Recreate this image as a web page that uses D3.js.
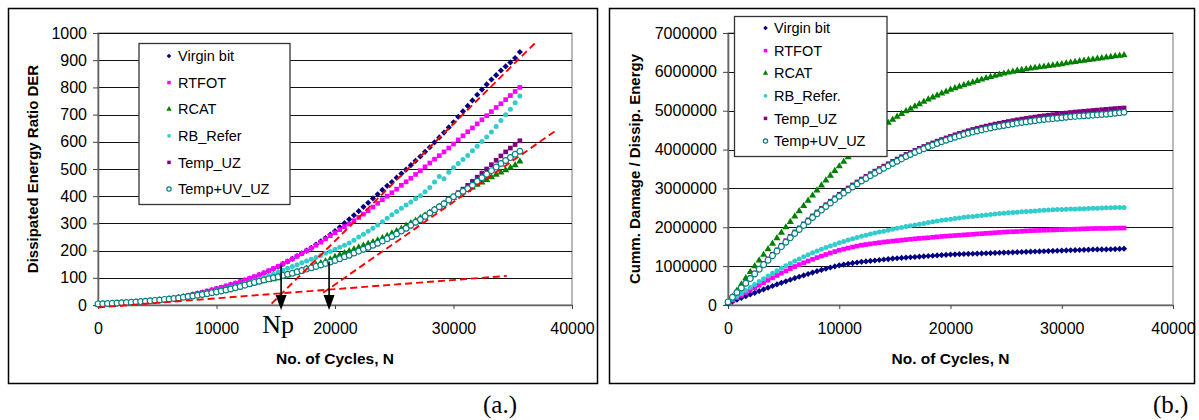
<!DOCTYPE html>
<html>
<head>
<meta charset="utf-8">
<script src="https://cdn.jsdelivr.net/npm/d3@7"></script>
<style>
  body { margin: 0; background: #fff; }
  svg { display: block; }
  text { font-family: "Liberation Sans", Arial, sans-serif; fill: #000; }
</style>
</head>
<body>
<svg id="chart" width="1199" height="420"></svg>
<script>
// ---- sampled load cycles (shared by every series) ----
const cycles = [
  0, 400, 800, 1200, 1600, 2000, 2400, 2800, 3200, 3600,
  4000, 4400, 4800, 5200, 5600, 6000, 6400, 6800, 7200, 7600,
  8000, 8400, 8800, 9200, 9600, 10000, 10400, 10800, 11200, 11600,
  12000, 12400, 12800, 13200, 13600, 14000, 14400, 14800, 15200, 15600,
  16000, 16400, 16800, 17200, 17600, 18000, 18400, 18800, 19200, 19600,
  20000, 20400, 20800, 21200, 21600, 22000, 22400, 22800, 23200, 23600,
  24000, 24400, 24800, 25200, 25600, 26000, 26400, 26800, 27200, 27600,
  28000, 28400, 28800, 29200, 29600, 30000, 30400, 30800, 31200, 31600,
  32000, 32400, 32800, 33200, 33600, 34000, 34400, 34800, 35200, 35600
];

// ---- (a) Dissipated Energy Ratio DER ----
const derVirgin = [
  2, 3, 3.5, 4.5, 5, 6, 7, 8.5, 9.5, 11,
  12, 13.5, 15, 17, 19.5, 22, 24.5, 27.5, 30.5, 34,
  38, 42, 46, 50, 54.5, 59, 64, 69, 74, 79,
  85, 91, 97, 103, 110, 117, 125, 133, 141, 151,
  160, 170, 180, 190, 200, 210, 222, 234, 246, 259,
  272, 286, 301, 315, 330, 345, 361, 376, 392, 407,
  423, 438, 452, 468, 483, 498, 514, 530, 546, 563,
  580, 598, 616, 634, 653, 672, 692, 712, 732, 752,
  773, 792, 811, 829, 845, 862, 877, 892, 908, 930
];
const derRTFOT = [
  2, 3, 4, 4.5, 5.5, 6.5, 7.5, 8.5, 10, 11,
  12.5, 14, 15.5, 17.5, 20, 22.5, 25, 28, 31, 35,
  39, 43, 47, 51, 55.5, 60, 65, 70, 75, 80.5,
  86, 92, 98, 104, 111, 118, 126, 134, 142, 151,
  160, 169, 179, 189, 199, 209, 220, 231, 243, 255,
  266, 277, 288, 298, 310, 322, 334, 347, 360, 374,
  387, 400, 413, 426, 440, 453, 466, 480, 494, 508,
  522, 536, 549, 563, 577, 592, 607, 622, 637, 651,
  666, 681, 696, 711, 726, 740, 755, 770, 785, 800
];
const derRCAT = [
  2, 3, 3.5, 4.5, 5.5, 6.5, 7.5, 8.5, 9.5, 11,
  12, 13.5, 15, 17, 19, 21, 23.5, 26, 29, 32,
  35, 38, 41, 44, 47, 50, 54, 58, 62, 66,
  70, 74, 78, 82, 85, 88, 92, 95, 99, 103,
  110, 115, 121, 127, 134, 142, 148, 154, 160, 168,
  177, 184, 191, 198, 205, 212, 218, 225, 231, 238,
  246, 254, 263, 272, 281, 292, 301, 310, 320, 330,
  340, 351, 362, 373, 384, 394, 404, 414, 423, 432,
  442, 451, 460, 470, 479, 487, 496, 505, 514, 528
];
const derRBRefer = [
  3, 3.5, 4, 5, 5.5, 6.5, 7.5, 8.5, 9.5, 11,
  12, 13.5, 15, 16.5, 18.5, 20.5, 23, 25.5, 28, 31,
  34, 37, 40, 43.5, 47.5, 52, 56, 60, 64, 68,
  73, 78, 83, 89, 95, 101, 107, 113, 120, 128,
  135, 142, 148, 155, 162, 168, 175, 182, 190, 197,
  205, 212, 220, 228, 238, 250, 260, 271, 282, 294,
  306, 319, 332, 344, 356, 368, 379, 391, 402, 416,
  432, 452, 472, 464, 488, 505, 520, 535, 550, 567,
  584, 601, 618, 636, 656, 678, 699, 720, 744, 768
];
const derTempUZ = [
  3, 4, 5, 5.5, 6.5, 7.5, 8.5, 9.5, 10.5, 12,
  13.5, 15, 16.5, 18, 20, 21.5, 23.5, 25.5, 28, 30,
  32, 35, 37.5, 40.5, 44, 47, 50.5, 54, 58, 62,
  66, 71, 76, 81, 85.5, 90, 94, 98, 102, 107,
  111, 115, 120, 124.5, 130, 135, 140, 145, 151, 156,
  162, 168, 175, 181, 189, 196, 203, 210, 218, 225,
  233, 242, 250, 259, 270, 280, 291, 302, 312, 324,
  336, 348, 360, 372, 387, 400, 413, 426, 440, 455,
  470, 485, 500, 516, 532, 548, 563, 577, 590, 604
];
const derTempUV = [
  4, 4.5, 5.5, 6, 7, 8, 9, 10, 11, 12.5,
  14, 15.5, 17, 18.5, 20.5, 22, 24, 26, 28.5, 31,
  33, 36, 38.5, 41.5, 45, 48, 51.5, 55, 59, 63.5,
  68, 73, 78, 83, 87.5, 92, 96, 100, 104, 109,
  113, 117, 122, 126.5, 132, 137, 142, 147, 153, 158,
  164, 170, 177, 183, 191, 198, 205, 212, 220, 227,
  235, 244, 252, 261, 272, 282, 293, 304, 314, 326,
  338, 350, 361, 372, 386, 398, 408, 418, 428, 440,
  455, 468, 481, 494, 507, 520, 531, 542, 554, 565
];

// ---- (b) Cumulative damage / dissipated energy, in millions ----
const dmgVirgin = [
  0.04, 0.088, 0.136, 0.182, 0.226, 0.27, 0.314, 0.358, 0.402, 0.446,
  0.49, 0.53, 0.57, 0.61, 0.65, 0.69, 0.726, 0.762, 0.798, 0.834,
  0.87, 0.902, 0.934, 0.964, 0.992, 1.02, 1.04, 1.06, 1.078, 1.094,
  1.11, 1.122, 1.134, 1.146, 1.158, 1.17, 1.182, 1.194, 1.204, 1.212,
  1.22, 1.228, 1.236, 1.244, 1.252, 1.26, 1.268, 1.276, 1.284, 1.292,
  1.30, 1.304, 1.308, 1.312, 1.316, 1.32, 1.324, 1.328, 1.332, 1.336,
  1.34, 1.344, 1.348, 1.352, 1.356, 1.36, 1.364, 1.368, 1.372, 1.376,
  1.38, 1.384, 1.388, 1.392, 1.396, 1.40, 1.404, 1.408, 1.412, 1.416,
  1.42, 1.424, 1.428, 1.43, 1.43, 1.43, 1.434, 1.438, 1.443, 1.45
];
const dmgRTFOT = [
  0.06, 0.124, 0.188, 0.252, 0.316, 0.38, 0.444, 0.508, 0.572, 0.636,
  0.70, 0.76, 0.82, 0.878, 0.934, 0.99, 1.038, 1.086, 1.132, 1.176,
  1.22, 1.26, 1.30, 1.338, 1.374, 1.41, 1.438, 1.466, 1.492, 1.516,
  1.54, 1.556, 1.572, 1.588, 1.604, 1.62, 1.632, 1.644, 1.656, 1.668,
  1.68, 1.692, 1.704, 1.714, 1.722, 1.73, 1.742, 1.754, 1.764, 1.772,
  1.78, 1.788, 1.796, 1.804, 1.812, 1.82, 1.828, 1.836, 1.844, 1.852,
  1.86, 1.868, 1.876, 1.882, 1.886, 1.89, 1.898, 1.906, 1.912, 1.916,
  1.92, 1.924, 1.928, 1.932, 1.936, 1.94, 1.944, 1.948, 1.952, 1.956,
  1.96, 1.964, 1.968, 1.97, 1.97, 1.97, 1.974, 1.978, 1.98, 1.98
];
const dmgRCAT = [
  0.05, 0.21, 0.37, 0.53, 0.69, 0.85, 0.998, 1.146, 1.292, 1.436,
  1.58, 1.72, 1.86, 2.0, 2.14, 2.28, 2.416, 2.552, 2.686, 2.818,
  2.95, 3.078, 3.206, 3.33, 3.45, 3.57, 3.686, 3.802, 3.914, 4.022,
  4.13, 4.23, 4.33, 4.426, 4.518, 4.61, 4.69, 4.77, 4.846, 4.918,
  4.99, 5.05, 5.11, 5.17, 5.23, 5.29, 5.342, 5.394, 5.444, 5.492,
  5.54, 5.58, 5.62, 5.658, 5.694, 5.73, 5.766, 5.802, 5.836, 5.868,
  5.90, 5.928, 5.956, 5.982, 6.006, 6.03, 6.05, 6.07, 6.088, 6.104,
  6.12, 6.136, 6.152, 6.168, 6.184, 6.20, 6.22, 6.24, 6.258, 6.274,
  6.29, 6.306, 6.322, 6.338, 6.354, 6.37, 6.386, 6.402, 6.418, 6.43
];
const dmgRBRefer = [
  0.08, 0.152, 0.224, 0.298, 0.374, 0.45, 0.526, 0.602, 0.676, 0.748,
  0.82, 0.884, 0.948, 1.01, 1.07, 1.13, 1.186, 1.242, 1.294, 1.342,
  1.39, 1.434, 1.478, 1.52, 1.56, 1.60, 1.636, 1.672, 1.706, 1.738,
  1.77, 1.798, 1.826, 1.852, 1.876, 1.90, 1.924, 1.948, 1.972, 1.996,
  2.02, 2.04, 2.06, 2.08, 2.10, 2.12, 2.14, 2.16, 2.178, 2.194,
  2.21, 2.226, 2.242, 2.256, 2.268, 2.28, 2.292, 2.304, 2.316, 2.328,
  2.34, 2.352, 2.364, 2.374, 2.382, 2.39, 2.398, 2.406, 2.414, 2.422,
  2.43, 2.438, 2.446, 2.452, 2.456, 2.46, 2.464, 2.468, 2.472, 2.476,
  2.48, 2.484, 2.488, 2.492, 2.496, 2.50, 2.504, 2.508, 2.51, 2.51
];
const dmgTempUZ = [
  0.08, 0.204, 0.328, 0.452, 0.576, 0.70, 0.824, 0.948, 1.068, 1.186,
  1.303, 1.42, 1.538, 1.653, 1.766, 1.879, 1.984, 2.089, 2.192, 2.293,
  2.394, 2.487, 2.58, 2.671, 2.76, 2.85, 2.93, 3.011, 3.09, 3.166,
  3.242, 3.31, 3.379, 3.446, 3.51, 3.575, 3.635, 3.696, 3.756, 3.816,
  3.876, 3.928, 3.981, 4.031, 4.08, 4.128, 4.172, 4.217, 4.259, 4.30,
  4.34, 4.38, 4.416, 4.452, 4.486, 4.518, 4.548, 4.578, 4.605, 4.631,
  4.656, 4.678, 4.70, 4.722, 4.744, 4.766, 4.784, 4.802, 4.82, 4.838,
  4.856, 4.87, 4.884, 4.898, 4.912, 4.926, 4.94, 4.954, 4.966, 4.976,
  4.986, 4.996, 5.006, 5.016, 5.026, 5.036, 5.045, 5.055, 5.062, 5.07
];
const dmgTempUV = [
  0.08, 0.20, 0.32, 0.44, 0.56, 0.68, 0.80, 0.92, 1.038, 1.154,
  1.27, 1.386, 1.502, 1.616, 1.728, 1.84, 1.944, 2.048, 2.15, 2.25,
  2.35, 2.442, 2.534, 2.624, 2.712, 2.80, 2.88, 2.96, 3.038, 3.114,
  3.19, 3.258, 3.326, 3.392, 3.456, 3.52, 3.58, 3.64, 3.70, 3.76,
  3.82, 3.872, 3.924, 3.974, 4.022, 4.07, 4.114, 4.158, 4.20, 4.24,
  4.28, 4.316, 4.352, 4.386, 4.418, 4.45, 4.478, 4.506, 4.532, 4.556,
  4.58, 4.60, 4.62, 4.64, 4.66, 4.68, 4.696, 4.712, 4.728, 4.744,
  4.76, 4.772, 4.784, 4.796, 4.808, 4.82, 4.832, 4.844, 4.854, 4.862,
  4.87, 4.878, 4.886, 4.894, 4.902, 4.91, 4.922, 4.934, 4.946, 4.96
];

// ---- axes ----
const cycleTicks = [0, 10000, 20000, 30000, 40000];
const derTicks = [0, 100, 200, 300, 400, 500, 600, 700, 800, 900, 1000];
const dmgTicks = [0, 1000000, 2000000, 3000000, 4000000, 5000000, 6000000, 7000000];

// ---- series names ----
const namesA = ["Virgin bit", "RTFOT", "RCAT", "RB_Refer", "Temp_UZ", "Temp+UV_UZ"];
const namesB = ["Virgin bit", "RTFOT", "RCAT", "RB_Refer.", "Temp_UZ", "Temp+UV_UZ"];

// ---- tangent construction on panel (a): [cycles, DER] end points ----
const tangentSteep = [[14650, 5], [37000, 968]];
const tangentFlat = [[0, -9], [34500, 107]];
const tangentLate = [[19000, 45], [38600, 640]];
// arrows marking the intersections (Np)
const arrowCycles = [15450, 19500];
const arrowTopDER = [148, 160];
const arrowTipDER = -18;

// marker look per series, in drawing order
const seriesStyle = [
  { color: "#000080", shape: "diamond" },
  { color: "#ff00ff", shape: "square" },
  { color: "#008000", shape: "triangle" },
  { color: "#33cccc", shape: "dot" },
  { color: "#800080", shape: "square" },
  { color: "#008080", shape: "ring" }
];

const svg = d3.select("#chart");
svg.append("rect").attr("width", 1199).attr("height", 420).attr("fill", "#fff");

function drawMarker(sel, shape, color, scale) {
  const k = scale || 1;
  if (shape === "ring") {
    sel.append("circle").attr("r", 2.9 * k).attr("fill", "#fff")
      .attr("stroke", color).attr("stroke-width", 1.2);
  } else if (shape === "dot") {
    sel.append("circle").attr("r", 2.5 * k).attr("fill", color);
  } else if (shape === "diamond") {
    sel.append("path").attr("d", d3.symbol(d3.symbolSquare, 19 * k * k)())
      .attr("transform", "rotate(45)").attr("fill", color);
  } else if (shape === "square") {
    sel.append("path").attr("d", d3.symbol(d3.symbolSquare, 22 * k * k)()).attr("fill", color);
  } else if (shape === "triangle") {
    sel.append("path").attr("d", d3.symbol(d3.symbolTriangle, 22 * k * k)()).attr("fill", color);
  }
}

function drawPanel(cfg) {
  const g = svg.append("g");
  const p = cfg.plot;
  // outer frame
  g.append("rect").attr("x", cfg.frame[0]).attr("y", cfg.frame[1])
    .attr("width", cfg.frame[2]).attr("height", cfg.frame[3])
    .attr("fill", "none").attr("stroke", "#000").attr("stroke-width", 1.5);

  const x = d3.scaleLinear().domain([0, 40000]).range([p.left, p.right]);
  const y = d3.scaleLinear().domain(cfg.yDomain).range([p.bottom, p.top]);

  // plot area border
  g.append("rect").attr("x", p.left).attr("y", p.top)
    .attr("width", p.right - p.left).attr("height", p.bottom - p.top)
    .attr("fill", "none").attr("stroke", "#8c8c8c").attr("stroke-width", 1.2);

  // horizontal gridlines
  g.append("g").selectAll("line").data(cfg.yTicks.filter(d => d > 0)).join("line")
    .attr("x1", p.left).attr("x2", p.right)
    .attr("y1", d => Math.round(y(d)) + 0.5).attr("y2", d => Math.round(y(d)) + 0.5)
    .attr("stroke", "#111").attr("stroke-width", 1.1);

  // axes
  const xAxis = g.append("g").attr("transform", `translate(0,${p.bottom})`)
    .call(d3.axisBottom(x).tickValues(cycleTicks).tickFormat(d3.format("d"))
      .tickSize(4).tickSizeOuter(0).tickPadding(14));
  const yAxis = g.append("g").attr("transform", `translate(${p.left},0)`)
    .call(d3.axisLeft(y).tickValues(cfg.yTicks).tickFormat(d3.format("d"))
      .tickSize(5).tickSizeOuter(0).tickPadding(6));
  [xAxis, yAxis].forEach(a => {
    a.select(".domain").attr("stroke", "#666").attr("stroke-width", 1.6);
    a.selectAll(".tick line").attr("stroke", "#444").attr("stroke-width", 1);
    a.selectAll(".tick text").attr("font-size", 16)
      .attr("font-family", '"Liberation Sans", Arial, sans-serif').attr("fill", "#000");
  });

  // axis titles
  g.append("text").attr("x", (p.left + p.right) / 2).attr("y", 364)
    .attr("text-anchor", "middle").attr("font-size", 15.5).attr("font-weight", "bold")
    .text("No. of Cycles, N");
  g.append("text")
    .attr("transform", `translate(${cfg.yTitleX},${(p.top + p.bottom) / 2}) rotate(-90)`)
    .attr("text-anchor", "middle").attr("dy", "0.35em")
    .attr("font-size", 15).attr("font-weight", "bold").text(cfg.yTitle);

  // data markers
  cfg.series.forEach((vals, i) => {
    const st = seriesStyle[i];
    const sg = g.append("g");
    cycles.forEach((c, j) => {
      const m = sg.append("g")
        .attr("transform", `translate(${x(c)},${y(vals[j] * cfg.unit)})`);
      drawMarker(m, st.shape, st.color, 1);
    });
  });

  if (cfg.extra) cfg.extra(g, x, y);

  // legend
  const L = cfg.legend;
  const lg = g.append("g");
  lg.append("rect").attr("x", L.x).attr("y", L.y).attr("width", L.w).attr("height", L.h)
    .attr("fill", "#fff").attr("stroke", "#333").attr("stroke-width", 1.3);
  cfg.names.forEach((name, i) => {
    const cy = L.row0 + i * L.step;
    const m = lg.append("g").attr("transform", `translate(${L.markerX},${cy})`);
    drawMarker(m, seriesStyle[i].shape, seriesStyle[i].color, 0.75);
    lg.append("text").attr("x", L.textX).attr("y", cy).attr("dy", "0.36em")
      .attr("font-size", 14.5).text(name);
  });

  // panel caption
  g.append("text").attr("x", cfg.caption[0]).attr("y", cfg.caption[1])
    .style("font-family", '"Liberation Serif", "Times New Roman", serif')
    .attr("font-size", 25).text(cfg.captionText);
}

// panel (a)
drawPanel({
  frame: [8.5, 8.5, 589, 375],
  plot: { left: 98, right: 572, top: 33, bottom: 305 },
  yDomain: [0, 1000],
  yTicks: derTicks,
  unit: 1,
  yTitle: "Dissipated Energy Ratio DER",
  yTitleX: 33,
  series: [derVirgin, derRTFOT, derRCAT, derRBRefer, derTempUZ, derTempUV],
  names: namesA,
  legend: { x: 139, y: 43.5, w: 151, h: 161, row0: 56, step: 26.6, markerX: 169, textX: 178 },
  caption: [483, 413],
  captionText: "(a.)",
  extra: (g, x, y) => {
    const line = d3.line().x(d => x(d[0])).y(d => y(d[1]));
    [tangentSteep, tangentFlat, tangentLate].forEach(seg => {
      g.append("path").attr("d", line(seg)).attr("fill", "none")
        .attr("stroke", "#ff0000").attr("stroke-width", 1.9)
        .attr("stroke-dasharray", "7,4");
    });
    arrowCycles.forEach((c, i) => {
      const ax = x(c), tip = y(arrowTipDER);
      g.append("line").attr("x1", ax).attr("x2", ax)
        .attr("y1", y(arrowTopDER[i])).attr("y2", tip - 12)
        .attr("stroke", "#000").attr("stroke-width", 1.6);
      g.append("path")
        .attr("d", `M${ax - 5.5},${tip - 15}L${ax + 5.5},${tip - 15}L${ax},${tip}Z`)
        .attr("fill", "#000");
    });
    g.append("text").attr("x", x(arrowCycles[0]) - 3).attr("y", 333)
      .attr("text-anchor", "middle")
      .style("font-family", '"Liberation Serif", "Times New Roman", serif')
      .attr("font-size", 26).text("Np");
  }
});

// panel (b)
drawPanel({
  frame: [609.5, 8.5, 585, 375],
  plot: { left: 728, right: 1173, top: 33, bottom: 305 },
  yDomain: [0, 7000000],
  yTicks: dmgTicks,
  unit: 1e6,
  yTitle: "Cumm. Damage / Dissip. Energy",
  yTitleX: 635,
  series: [dmgVirgin, dmgRTFOT, dmgRCAT, dmgRBRefer, dmgTempUZ, dmgTempUV],
  names: namesB,
  legend: { x: 734.5, y: 16.5, w: 152.5, h: 140, row0: 28, step: 22.6, markerX: 765.5, textX: 774 },
  caption: [1153, 413],
  captionText: "(b.)"
});
</script>
</body>
</html>
